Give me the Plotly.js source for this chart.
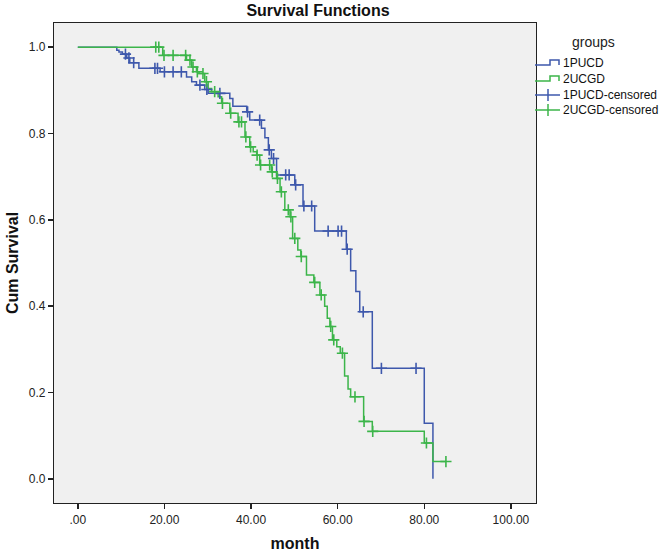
<!DOCTYPE html>
<html>
<head>
<meta charset="utf-8">
<script src="https://cdn.plot.ly/plotly-3.0.1.min.js"></script>
<style>html,body{margin:0;padding:0;background:#fff;}#chart{width:664px;height:554px;}</style>
</head>
<body>
<div id="chart"></div>
<script>
// 1PUCD: step times (months) and survival after each step
const pucdTimes = [9.0, 9.5, 10.3, 11.3, 12.0, 14.1, 19.0, 25.1, 26.3, 27.4, 29.3, 30.1, 35.1, 35.8, 39.0, 39.7, 42.4, 43.2, 44.0, 44.7, 45.9, 50.1, 52.0, 54.7, 62.0, 63.0, 64.2, 65.1, 68.0, 80.0, 82.0];
const pucdSurv  = [0.993, 0.989, 0.984, 0.975, 0.964, 0.951, 0.943, 0.931, 0.920, 0.912, 0.902, 0.893, 0.881, 0.863, 0.850, 0.831, 0.812, 0.790, 0.762, 0.742, 0.704, 0.681, 0.632, 0.574, 0.532, 0.482, 0.434, 0.387, 0.256, 0.129, 0.0];
const pucdEnd = 82.0;
const pucdCensored = [11.0, 11.8, 12.9, 17.8, 18.4, 20.0, 22.0, 23.9, 28.2, 29.8, 32.8, 39.2, 42.0, 44.2, 45.2, 48.0, 48.8, 50.3, 52.2, 54.0, 57.8, 60.1, 60.9, 62.2, 65.9, 70.1, 78.1];

// 2UCGD
const ucgdTimes = [19.6, 25.1, 26.3, 27.4, 28.0, 29.3, 30.1, 30.9, 32.4, 33.2, 35.1, 37.0, 38.6, 39.7, 40.5, 41.3, 42.0, 44.7, 45.9, 46.7, 47.8, 49.0, 49.6, 50.8, 51.5, 52.8, 54.5, 55.9, 57.0, 57.6, 58.2, 58.8, 59.8, 60.6, 61.6, 62.4, 63.0, 66.0, 68.0, 80.0, 82.0];
const ucgdSurv  = [0.981, 0.970, 0.954, 0.943, 0.939, 0.920, 0.904, 0.897, 0.885, 0.870, 0.847, 0.827, 0.792, 0.769, 0.758, 0.750, 0.727, 0.711, 0.696, 0.665, 0.623, 0.607, 0.557, 0.530, 0.515, 0.472, 0.455, 0.426, 0.400, 0.372, 0.353, 0.322, 0.306, 0.291, 0.238, 0.208, 0.190, 0.133, 0.110, 0.083, 0.040];
const ucgdEnd = 85.0;
const ucgdCensored = [18.0, 18.7, 19.9, 22.0, 24.9, 25.9, 26.6, 27.6, 28.9, 29.7, 31.6, 33.4, 35.3, 37.2, 37.8, 38.8, 39.9, 41.4, 42.2, 44.3, 44.9, 46.1, 47.0, 48.6, 49.2, 50.1, 51.6, 54.7, 56.2, 58.4, 59.1, 61.1, 64.0, 66.1, 68.1, 80.5, 85.0];

const xTickVals = [0, 20, 40, 60, 80, 100];
const xTickText = ['.00', '20.00', '40.00', '60.00', '80.00', '100.00'];
const groupNames = ['1PUCD', '2UCGD', '1PUCD-censored', '2UCGD-censored'];

const blue = '#3e58ac';
const green = '#3cb54a';
const FONT = 'Liberation Sans, Arial, sans-serif';

function stepXY(times, surv, end) {
  const x = [0].concat(times);
  const y = [1].concat(surv);
  if (end > times[times.length - 1]) { x.push(end); y.push(surv[surv.length - 1]); }
  return {x, y};
}
function survAt(times, surv, t) {
  let s = 1;
  for (let i = 0; i < times.length; i++) if (times[i] <= t) s = surv[i];
  return s;
}

const p = stepXY(pucdTimes, pucdSurv, pucdEnd);
const u = stepXY(ucgdTimes, ucgdSurv, ucgdEnd);

const mk = c => ({symbol: 'cross-thin', size: 8, color: c, line: {color: c, width: 1.6}});
const traces = [
  {x: p.x, y: p.y, mode: 'lines', line: {shape: 'hv', color: blue, width: 1.5}, name: groupNames[0]},
  {x: u.x, y: u.y, mode: 'lines', line: {shape: 'hv', color: green, width: 1.5}, name: groupNames[1]},
  {x: pucdCensored, y: pucdCensored.map(t => survAt(pucdTimes, pucdSurv, t)), mode: 'markers', marker: mk(blue), name: groupNames[2]},
  {x: ucgdCensored, y: ucgdCensored.map(t => survAt(ucgdTimes, ucgdSurv, t)), mode: 'markers', marker: mk(green), name: groupNames[3]}
];

// plot area in pixels (for placing the hand-made legend outside the axes)
const W = 664, H = 554, ML = 54, MR = 128, MT = 23, MB = 51;
const pw = W - ML - MR, ph = H - MT - MB;
const px = x => (x - ML) / pw;
const py = y => (H - MB - y) / ph;

const shapes = [];
const annotations = [];
annotations.push({text: 'groups', xref: 'paper', yref: 'paper', x: px(593), y: py(42), xanchor: 'center', yanchor: 'middle',
  showarrow: false, font: {family: FONT, size: 14, color: '#222'}});
const legendRows = [63, 79, 95, 110];
const legendColors = [blue, green, blue, green];
legendRows.forEach((ry, i) => {
  const c = legendColors[i];
  if (i < 2) {
    shapes.push({type: 'path', xref: 'paper', yref: 'paper',
      path: `M${px(535)},${py(ry + 2)} L${px(550)},${py(ry + 2)} L${px(550)},${py(ry - 3)} L${px(559)},${py(ry - 3)} L${px(559)},${py(ry + 2)}`,
      line: {color: c, width: 1.5}});
  } else {
    shapes.push({type: 'line', xref: 'paper', yref: 'paper', x0: px(535), x1: px(560), y0: py(ry), y1: py(ry), line: {color: c, width: 1.5}});
    shapes.push({type: 'line', xref: 'paper', yref: 'paper', x0: px(548), x1: px(548), y0: py(ry - 6), y1: py(ry + 6), line: {color: c, width: 1.5}});
  }
  annotations.push({text: groupNames[i], xref: 'paper', yref: 'paper', x: px(561), y: py(ry), xanchor: 'left', yanchor: 'middle',
    showarrow: false, font: {family: FONT, size: 12, color: '#111'}});
});

const layout = {
  width: W, height: H,
  margin: {l: ML, r: MR, t: MT, b: MB, autoexpand: false},
  paper_bgcolor: '#ffffff',
  plot_bgcolor: '#f0f0f0',
  font: {family: FONT, size: 12, color: '#222'},
  showlegend: false,
  title: {text: '<b>Survival Functions</b>', font: {family: FONT, size: 16, color: '#111'},
          x: 318 / W, xref: 'container', xanchor: 'center', y: 1 - 10 / H, yref: 'container', yanchor: 'middle'},
  xaxis: {
    range: [-5.5, 105.8], tickvals: xTickVals, ticktext: xTickText,
    showgrid: false, zeroline: false, showline: true, mirror: true, linecolor: '#222', linewidth: 1.2,
    ticks: 'outside', ticklen: 5, tickwidth: 1.5, tickcolor: '#222',
    tickfont: {family: FONT, size: 12, color: '#222'},
    title: {text: '<b>month</b>', font: {family: FONT, size: 16, color: '#111'}, standoff: 12}
  },
  yaxis: {
    range: [-0.056, 1.056], tickvals: [0, 0.2, 0.4, 0.6, 0.8, 1.0], tickformat: '.1f',
    showgrid: false, zeroline: false, showline: true, mirror: true, linecolor: '#222', linewidth: 1.2,
    ticks: 'outside', ticklen: 5, tickwidth: 1.5, tickcolor: '#222',
    tickfont: {family: FONT, size: 12, color: '#222'},
    title: {text: '<b>Cum Survival</b>', font: {family: FONT, size: 16, color: '#111'}, standoff: 6}
  },
  shapes: shapes,
  annotations: annotations
};

Plotly.newPlot('chart', traces, layout, {displayModeBar: false, staticPlot: true});
</script>
</body>
</html>
